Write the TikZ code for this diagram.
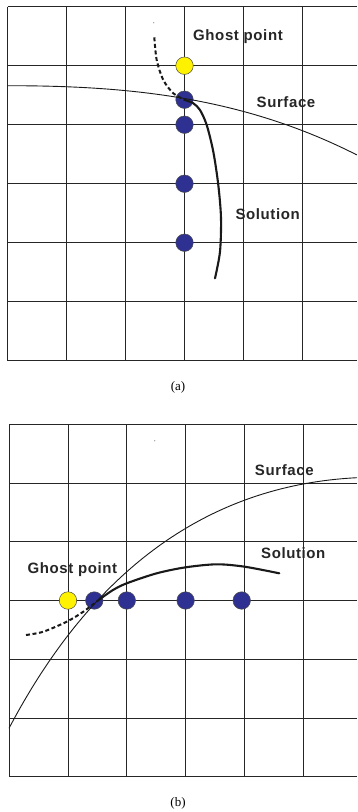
\documentclass[tikz,border=0pt]{standalone}
\usepackage{fontspec}
\setmainfont{Liberation Serif}
\newfontfamily\labelfont[LetterSpace=4]{Liberation Sans}
\definecolor{ptblue}{HTML}{2E3192}
\definecolor{ptyellow}{HTML}{FFF200}
\begin{document}
\begin{tikzpicture}[x=1pt,y=-1pt,
  gridline/.style={line width=0.9pt, black!85},
  surf/.style={line width=0.9pt, black!90},
  soln/.style={line width=2.1pt, black!90, line cap=round},
  ghostpath/.style={line width=2pt, black!90, dash pattern=on 4pt off 2.6pt},
  bluept/.style={circle, draw=black!70, line width=0.5pt, fill=ptblue, minimum size=17.5pt, inner sep=0pt},
  ghostpt/.style={bluept, fill=ptyellow},
  lbl/.style={font=\labelfont\bfseries\fontsize{15}{18}\selectfont, text=black!85, inner sep=0pt},
  captxt/.style={font=\fontsize{13}{15}\selectfont, inner sep=0pt},
  speck/.style={fill=black!45}]

\fill[white] (0,0) rectangle (357,812);
\useasboundingbox (0,0) rectangle (357,812);

% ---------------- panel (a) ----------------
\foreach \i in {0,...,5} \draw[gridline] ({7.5+59*\i},6.7) -- ({7.5+59*\i},360.7);
\foreach \j in {0,...,6} \draw[gridline] (7.5,{6.7+59*\j}) -- (357,{6.7+59*\j});

\node[ghostpt] (ga) at (184.5,65.7) {};
\node[bluept] (a1) at (184.5,99.7) {};
\node[bluept] (a2) at (184.5,124.7) {};
\node[bluept] (a3) at (184.5,183.7) {};
\node[bluept] (a4) at (184.5,242.7) {};

\coordinate (ja) at (185,100);
\draw[surf] plot[domain=0:1,samples=80,smooth] ({7.5+349.5*\x},{85.7+30*\x*\x+39.3*\x*\x*\x});
\draw[ghostpath] plot[smooth] coordinates {(154.3,37.3) (156.7,60) (163.3,80) (173.3,93.3) (ja)};
\draw[soln] plot[smooth] coordinates {(ja) (193.3,103.3) (200,110) (206.7,125) (213.3,151.7) (218.3,185) (221,218) (220,251.7) (215,278.3)};

\fill[speck] (153.7,22.7) circle (0.6);

\node[lbl] (gla) at (238,36.7) {Ghost point};
\node[lbl] (sfa) at (286,101.7) {Surface};
\node[lbl] (sla) at (267.7,213.7) {Solution};
\node[captxt] (capa) at (178,387.7) {(a)};

% ---------------- panel (b) ----------------
\foreach \i in {0,...,5} \draw[gridline] ({9.2+58.8*\i},424.3) -- ({9.2+58.8*\i},776.8);
\foreach \j in {0,...,6} \draw[gridline] (9.2,{424.3+58.75*\j}) -- (357,{424.3+58.75*\j});

\node[ghostpt] (gb) at (68,600.5) {};
\node[bluept] (b1) at (94.3,600.5) {};
\node[bluept] (b2) at (126.8,600.5) {};
\node[bluept] (b3) at (185.6,600.5) {};
\node[bluept] (b4) at (241.7,600.5) {};

\coordinate (jb) at (100,599);
\coordinate (sb0) at (9,728.3);
\coordinate (sb1) at (357,477.7);
\draw[surf] (sb0) .. controls (93,568.6) and (209,485.1) .. (sb1);
\draw[ghostpath] plot[smooth] coordinates {(26,635) (43.3,631.7) (66.7,621.7) (83.3,611.7) (jb)};
\draw[soln] plot[smooth] coordinates {(jb) (113,590) (126.7,583.3) (156.7,573.3) (185.7,567.3) (216.7,564.3) (244.7,566.7) (279.3,573.3)};

\fill[speck] (154.7,440.7) circle (0.6);

\node[lbl] (glb) at (72.3,570) {Ghost point};
\node[lbl] (sfb) at (284.3,470) {Surface};
\node[lbl] (slb) at (293.3,552.7) {Solution};
\node[captxt] (capb) at (178,803) {(b)};
\end{tikzpicture}
\end{document}
